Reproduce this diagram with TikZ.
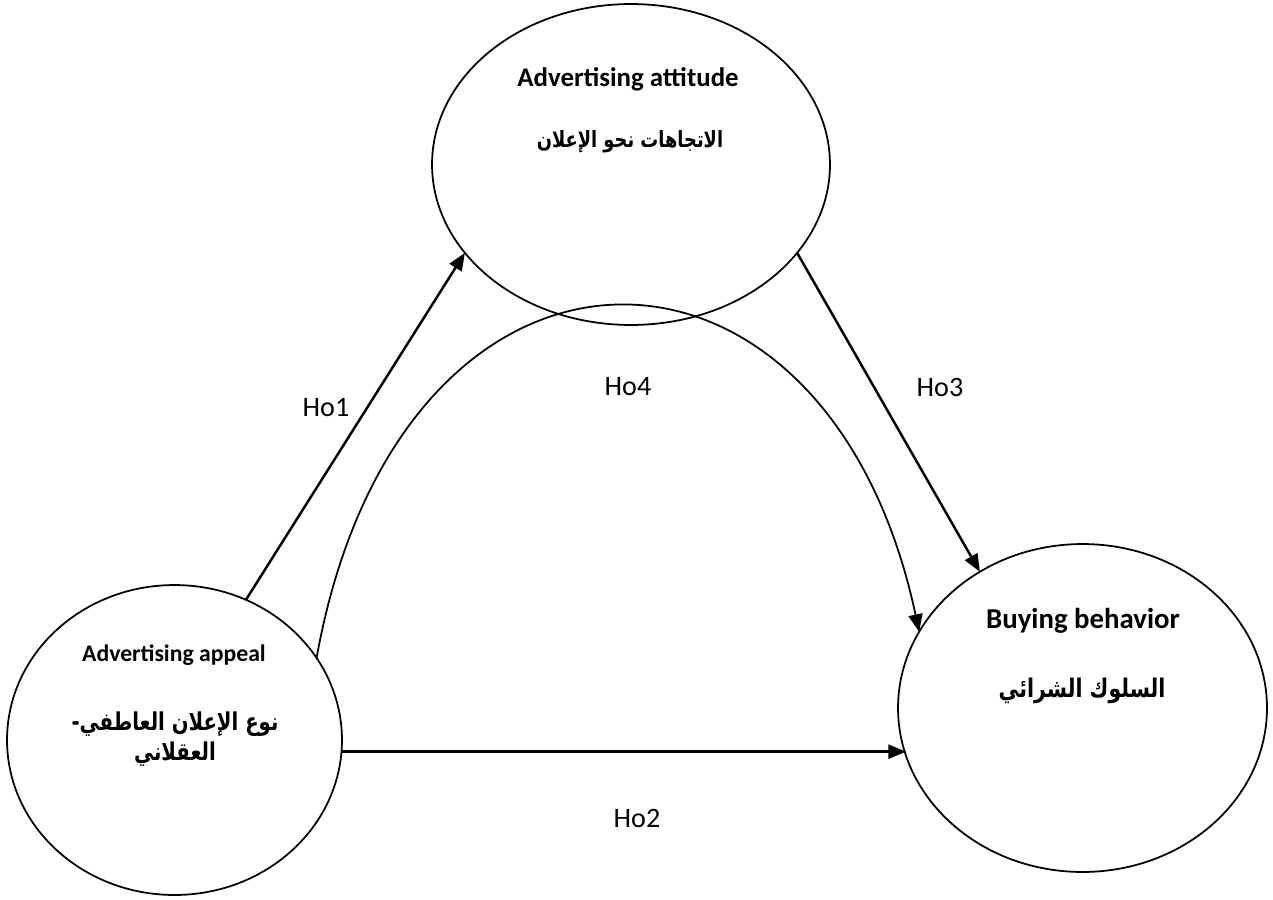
\documentclass[tikz,border=0pt]{standalone}
\usepackage{fontspec}
\setmainfont{Carlito}
\newfontfamily\arabicfont[Script=Arabic,FakeStretch=0.8]{DejaVu Sans}
\TeXXeTstate=1
\usetikzlibrary{arrows.meta,shapes.geometric}

\tikzset{
  construct/.style={draw,ellipse,line width=1pt,inner sep=0pt,outer sep=0pt},
  entitle/.style={anchor=base,font=\bfseries\fontsize{#1}{#1}\selectfont},
  artitle/.style={anchor=base,font=\arabicfont\bfseries\fontsize{#1}{#1}\selectfont},
  hypo/.style={font=\fontsize{16}{19}\selectfont},
  link/.style={line width=1.4pt,-{Triangle[length=10pt,width=8pt]}},
  curvelink/.style={line width=1pt,-{Triangle[length=10pt,width=8pt]}},
}

\begin{document}
\begin{tikzpicture}[x=0.02cm,y=-0.02cm]
    \useasboundingbox (0,0) rectangle (1273,899);
    % constructs
    \node[construct,minimum width=7.96cm,minimum height=6.42cm] (att) at (631,164.5) {};
    \node[construct,minimum width=6.7cm,minimum height=6.2cm] (app) at (174.5,740) {};
    \node[construct,minimum width=7.38cm,minimum height=6.56cm] (buy) at (1082.5,708) {};
    \node[entitle=15.3] (atten) at (628,86) {Advertising attitude};
    \node[artitle=12.7] (attar) at (630,147) {\beginR الاتجاهات نحو الإعلان\endR};
    \node[entitle=13.5] (appen) at (174,661) {Advertising appeal};
    \node[artitle=14] (appar) at (175,730) {\beginR نوع الإعلان العاطفي-\endR};
    \node[artitle=14] (apparb) at (175,760) {\beginR العقلاني\endR};
    \node[entitle=16.4] (buyen) at (1083,628) {Buying behavior};
    \node[artitle=14.6] (buyar) at (1082,697) {\beginR السلوك الشرائي\endR};
    % hypotheses
    \draw[link] (app.63) -- (att.208);
    \draw[link] (att.-28) -- (buy.127);
    \draw[link] (app.-4) -- (app.-4 -| buy.195);
    \draw[curvelink] (app.30) .. controls (400,194) and (826,194) .. (buy.155);
    \node[hypo] (h1) at (326,408) {Ho1};
    \node[hypo] (h4) at (628,387) {Ho4};
    \node[hypo] (h3) at (940,387) {Ho3};
    \node[hypo] (h2) at (637,818) {Ho2};
\end{tikzpicture}
\end{document}
